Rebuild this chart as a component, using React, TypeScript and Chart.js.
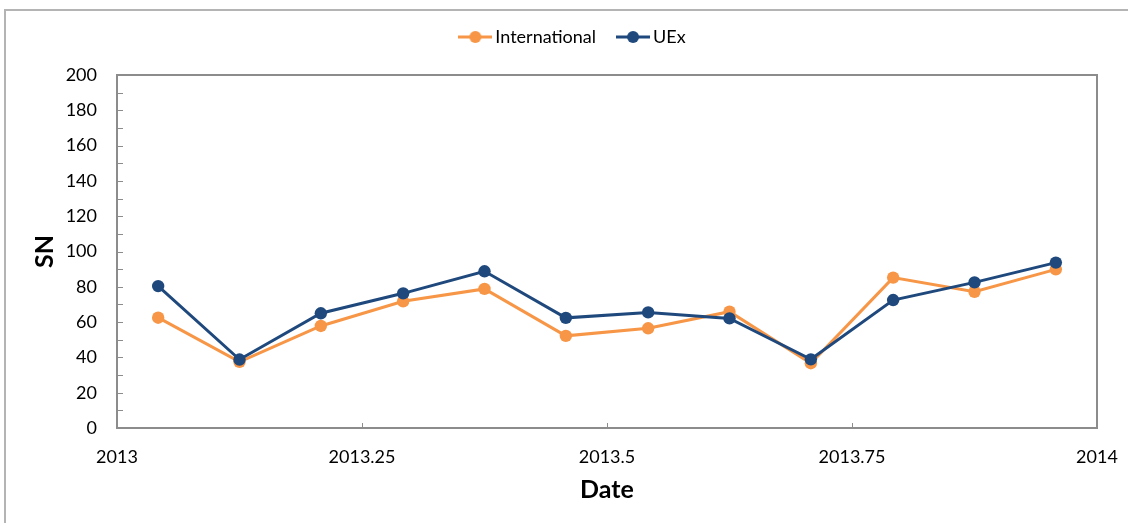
import React, { useEffect, useRef } from 'react';
import { Chart, registerables } from 'chart.js';

Chart.register(...registerables);

// Mid-month dates (fractional year)
const dates = [2013.042, 2013.125, 2013.208, 2013.292, 2013.375, 2013.458, 2013.542, 2013.625, 2013.708, 2013.792, 2013.875, 2013.958];
const international = [62.5, 37.5, 57.8, 71.8, 78.8, 52.2, 56.5, 65.9, 36.7, 85.2, 77.2, 89.9];
const uex = [80.4, 38.8, 65.0, 76.3, 88.8, 62.4, 65.5, 62.1, 38.9, 72.5, 82.5, 93.7];

const xTicks = [2013, 2013.25, 2013.5, 2013.75, 2014];
const yTicks = [0, 20, 40, 60, 80, 100, 120, 140, 160, 180, 200];
const yMinorTicks = [10, 20, 30, 40, 50, 60, 70, 80, 90, 100, 110, 120, 130, 140, 150, 160, 170, 180, 190];
const xInnerTicks = [2013.25, 2013.5, 2013.75];

const ORANGE = '#F79646';
const BLUE = '#1F497D';
const FONT = 'Lato';

function swatch(color: string) {
  const c = document.createElement('canvas');
  c.width = 34;
  c.height = 14;
  const g = c.getContext('2d')!;
  g.strokeStyle = color;
  g.lineWidth = 3;
  g.beginPath();
  g.moveTo(0, 7);
  g.lineTo(34, 7);
  g.stroke();
  g.fillStyle = color;
  g.beginPath();
  g.arc(17, 7, 6, 0, Math.PI * 2);
  g.fill();
  return c;
}

const framePlugin = {
  id: 'frame',
  beforeDatasetsDraw(chart: any) {
    const { ctx, chartArea: a, scales } = chart;
    ctx.save();
    ctx.strokeStyle = '#8c8c8c';
    ctx.lineWidth = 1;
    ctx.beginPath();
    for (const v of yMinorTicks) {
      const y = Math.round(scales.y.getPixelForValue(v)) + 0.5;
      ctx.moveTo(a.left, y);
      ctx.lineTo(a.left + 6, y);
    }
    for (const v of xInnerTicks) {
      const x = Math.round(scales.x.getPixelForValue(v)) + 0.5;
      ctx.moveTo(x, a.bottom);
      ctx.lineTo(x, a.bottom - 5);
    }
    ctx.stroke();
    ctx.lineWidth = 2;
    ctx.strokeRect(a.left, a.top, a.right - a.left, a.bottom - a.top);
    ctx.strokeStyle = '#b4b4b4';
    ctx.strokeRect(5, 10, 1300, 700);
    ctx.restore();
  },
};

export default function App() {
  const ref = useRef<HTMLCanvasElement | null>(null);

  useEffect(() => {
    if (!ref.current) return;
    Chart.defaults.font.family = FONT;
    const swO = swatch(ORANGE);
    const swB = swatch(BLUE);
    const chart = new Chart(ref.current, {
      type: 'line',
      data: {
        datasets: [
          {
            label: 'International',
            data: dates.map((x, i) => ({ x, y: international[i] })),
            borderColor: ORANGE,
            backgroundColor: ORANGE,
            pointBackgroundColor: ORANGE,
            pointBorderColor: ORANGE,
            borderWidth: 3,
            pointRadius: 6.2,
            pointBorderWidth: 0,
            tension: 0,
            order: 1,
          },
          {
            label: 'UEx',
            data: dates.map((x, i) => ({ x, y: uex[i] })),
            borderColor: BLUE,
            backgroundColor: BLUE,
            pointBackgroundColor: BLUE,
            pointBorderColor: BLUE,
            borderWidth: 3,
            pointRadius: 6.2,
            pointBorderWidth: 0,
            tension: 0,
            order: 0,
          },
        ],
      },
      options: {
        animation: false,
        responsive: false,
        maintainAspectRatio: false,
        devicePixelRatio: 1,
        layout: { padding: { left: 22, right: 0, top: 2, bottom: 0 } },
        plugins: {
          tooltip: { enabled: false },
          legend: {
            position: 'top',
            labels: {
              usePointStyle: true,
              pointStyleWidth: 22,
              padding: 26,
              color: '#000',
              font: { size: 18, family: FONT },
              generateLabels: () => [
                { text: 'International', pointStyle: swO as any, fillStyle: ORANGE, strokeStyle: ORANGE, lineWidth: 0, hidden: false, datasetIndex: 0 },
                { text: 'UEx', pointStyle: swB as any, fillStyle: BLUE, strokeStyle: BLUE, lineWidth: 0, hidden: false, datasetIndex: 1 },
              ],
            },
          },
        },
        scales: {
          x: {
            type: 'linear',
            position: 'bottom',
            min: 2013,
            max: 2014,
            afterBuildTicks: (s: any) => {
              s.ticks = xTicks.map((v) => ({ value: v }));
            },
            afterFit: (s: any) => {
              s.height = 95;
            },
            ticks: {
              color: '#000',
              font: { size: 18, family: FONT },
              padding: 0,
              maxRotation: 0,
              autoSkip: false,
              callback: (v: any) => String(v),
            },
            grid: { display: false, drawTicks: true, tickLength: 18 },
            border: { display: false },
            title: {
              display: true,
              text: 'Date',
              color: '#000',
              font: { size: 25, weight: 'bold', family: FONT },
              padding: { top: 0, bottom: 18 },
            },
          },
          y: {
            type: 'linear',
            position: 'left',
            min: 0,
            max: 200,
            afterBuildTicks: (s: any) => {
              s.ticks = yTicks.map((v) => ({ value: v }));
            },
            afterFit: (s: any) => {
              s.width = 95;
            },
            ticks: {
              color: '#000',
              font: { size: 18, family: FONT },
              padding: 12,
              callback: (v: any) => String(v),
            },
            grid: { display: false, drawTicks: true, tickLength: 8 },
            border: { display: false },
            title: {
              display: true,
              text: 'SN',
              color: '#000',
              font: { size: 25, weight: 'bold', family: FONT },
              padding: { top: 8, bottom: 0 },
            },
          },
          spacerRight: {
            type: 'linear',
            position: 'right',
            display: true,
            afterFit: (s: any) => {
              s.width = 31;
            },
            ticks: { display: false },
            grid: { display: false },
            border: { display: false },
          },
          spacerTop: {
            type: 'linear',
            position: 'top',
            display: true,
            afterFit: (s: any) => {
              s.height = 19;
            },
            ticks: { display: false },
            grid: { display: false },
            border: { display: false },
          },
        },
      } as any,
      plugins: [framePlugin],
    });
    return () => chart.destroy();
  }, []);

  return (
    <div style={{ position: 'absolute', left: 0, top: 0, width: 1128, height: 523, background: '#fff' }}>
      <canvas ref={ref} width={1128} height={523} style={{ display: 'block' }} />
    </div>
  );
}
